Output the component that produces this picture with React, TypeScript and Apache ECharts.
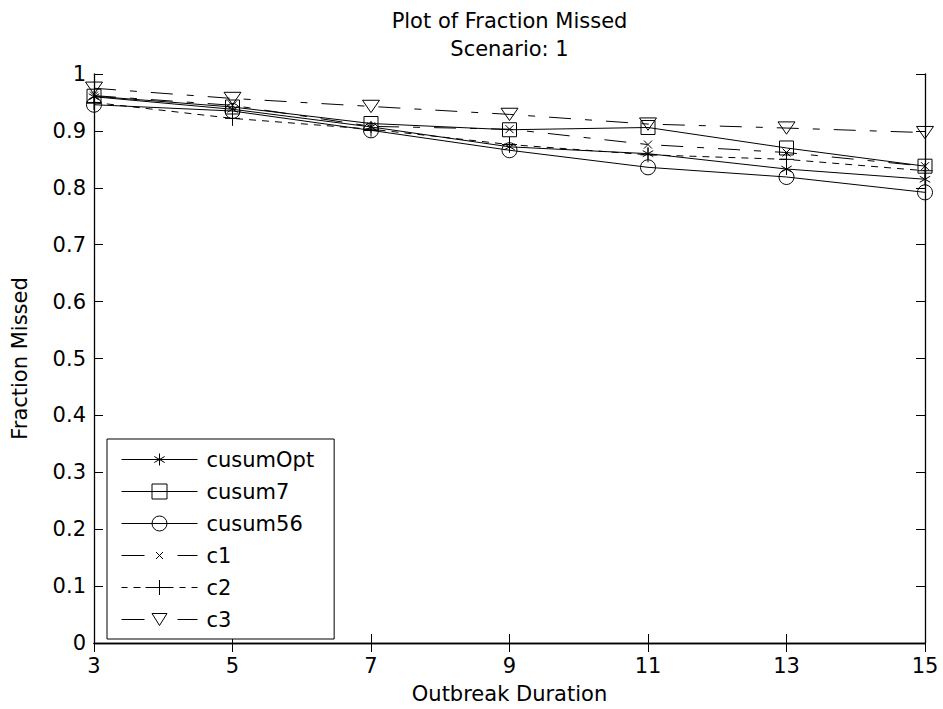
import React, { useEffect, useRef } from "react";
import * as echarts from "echarts";

const durations = [3, 5, 7, 9, 11, 13, 15];
const cusumOpt = [0.960, 0.938, 0.907, 0.872, 0.860, 0.833, 0.815];
const cusum7 = [0.961, 0.942, 0.913, 0.902, 0.906, 0.870, 0.838];
const cusum56 = [0.946, 0.935, 0.901, 0.866, 0.836, 0.819, 0.792];
const c1 = [0.962, 0.945, 0.908, 0.903, 0.876, 0.862, 0.838];
const c2 = [0.950, 0.922, 0.903, 0.876, 0.858, 0.850, 0.830];
const c3 = [0.975, 0.957, 0.943, 0.929, 0.912, 0.905, 0.897];

const seriesNames = ["cusumOpt", "cusum7", "cusum56", "c1", "c2", "c3"];
const titleText = "Plot of Fraction Missed";
const subtitleText = "Scenario: 1";
const xName = "Outbreak Duration";
const yName = "Fraction Missed";

const FONT = "'DejaVu Sans', 'Liberation Sans', Arial, sans-serif";
const FS = 21;

// plot marker shapes
const SYM_ASTERISK = "path://M0,-1L0,1M-0.87,-0.5L0.87,0.5M-0.87,0.5L0.87,-0.5";
const SYM_X = "path://M-1,-1L1,1M-1,1L1,-1";
const SYM_PLUS = "path://M0,-1L0,1M-1,0L1,0";
const SYM_TRI_DOWN = "path://M0,0L2,0L1,1.45Z";

// legend icons (76 x 20 box, anchored by the two leading moveTo points)
const BOX = "M0,0M76,20";
const ICON_ASTERISK = "path://" + BOX + "M0,10L76,10M38,4L38,16M32.8,7L43.2,13M32.8,13L43.2,7";
const ICON_SQUARE = "path://" + BOX + "M0,10L76,10M30.5,2.5L45.5,2.5L45.5,17.5L30.5,17.5Z";
const ICON_CIRCLE = "path://" + BOX + "M0,10L76,10M45.5,10A7.5,7.5 0 1 1 30.5,10A7.5,7.5 0 1 1 45.5,10Z";
const ICON_X = "path://" + BOX + "M0,10L23,10M56,10L76,10M34.5,6.5L41.5,13.5M34.5,13.5L41.5,6.5";
const ICON_PLUS = "path://" + BOX + "M0,10L6,10M12,10L19,10M24,10L52,10M58,10L64,10M70,10L76,10M38,2.5L38,17.5";
const ICON_TRI = "path://" + BOX + "M0,10L23,10M56,10L76,10M30.5,4L45.5,4L38,16Z";

const DASH_DOT = [22, 14, 7, 14];
const DASHED = [7, 6];

function makeSeries(name: string, values: number[], symbol: string, size: number, lineType: any) {
  return {
    name,
    type: "line",
    data: durations.map((d, i) => [d, values[i]]),
    symbol,
    symbolSize: size,
    symbolKeepAspect: true,
    showAllSymbol: true,
    lineStyle: { color: "#000", width: 1, type: lineType },
    itemStyle: { color: "rgba(0,0,0,0)", borderColor: "#000", borderWidth: 1 },
    emphasis: { disabled: true },
    z: 3,
  };
}

export default function App() {
  const ref = useRef<HTMLDivElement>(null);
  useEffect(() => {
    if (!ref.current) return;
    const chart = echarts.init(ref.current, null, { renderer: "svg" });
    const axisLine = { show: true, lineStyle: { color: "#000", width: 1.3 } };
    const tick = { show: true, inside: true, length: 9, lineStyle: { color: "#000", width: 1 } };
    const icons = [ICON_ASTERISK, ICON_SQUARE, ICON_CIRCLE, ICON_X, ICON_PLUS, ICON_TRI];
    chart.setOption({
      animation: false,
      backgroundColor: "#fff",
      textStyle: { fontFamily: FONT },
      title: {
        text: titleText + "\n" + subtitleText,
        left: 509.5,
        textAlign: "center",
        top: 7,
        padding: 0,
        textStyle: { fontFamily: FONT, fontSize: FS, fontWeight: "normal", color: "#000", lineHeight: 28 },
      },
      grid: { left: 94, right: 18, top: 74, bottom: 60, containLabel: false },
      legend: {
        orient: "vertical",
        left: 107,
        top: 439,
        backgroundColor: "#fff",
        borderColor: "#000",
        borderWidth: 1,
        padding: [10, 20, 9, 14],
        itemGap: 11,
        itemWidth: 76,
        itemHeight: 20,
        itemStyle: { color: "rgba(0,0,0,0)", borderColor: "#000", borderWidth: 1 },
        textStyle: { fontFamily: FONT, fontSize: FS, color: "#000", padding: [0, 0, 0, 4] },
        data: seriesNames.map((n, i) => ({ name: n, icon: icons[i] })),
      },
      xAxis: [
        {
          type: "value",
          min: 3,
          max: 15,
          interval: 2,
          position: "bottom",
          name: xName,
          nameLocation: "middle",
          nameGap: 40,
          nameTextStyle: { fontFamily: FONT, fontSize: FS, color: "#000" },
          axisLine,
          axisTick: tick,
          splitLine: { show: false },
          axisLabel: { fontFamily: FONT, fontSize: FS, color: "#000", margin: 12 },
        },
        {
          type: "value",
          min: 3,
          max: 15,
          interval: 2,
          position: "top",
          axisLine,
          axisTick: tick,
          splitLine: { show: false },
          axisLabel: { show: false },
        },
      ],
      yAxis: [
        {
          type: "value",
          min: 0,
          max: 1,
          interval: 0.1,
          position: "left",
          name: yName,
          nameLocation: "middle",
          nameGap: 64,
          nameTextStyle: { fontFamily: FONT, fontSize: FS, color: "#000" },
          axisLine,
          axisTick: tick,
          splitLine: { show: false },
          axisLabel: {
            fontFamily: FONT,
            fontSize: FS,
            color: "#000",
            margin: 8,
            formatter: (v: number) => String(Math.round(v * 10) / 10),
          },
        },
        {
          type: "value",
          min: 0,
          max: 1,
          interval: 0.1,
          position: "right",
          axisLine,
          axisTick: tick,
          splitLine: { show: false },
          axisLabel: { show: false },
        },
      ],
      series: [
        makeSeries(seriesNames[0], cusumOpt, SYM_ASTERISK, 12, "solid"),
        makeSeries(seriesNames[1], cusum7, "rect", 14, "solid"),
        makeSeries(seriesNames[2], cusum56, "circle", 15, "solid"),
        makeSeries(seriesNames[3], c1, SYM_X, 8, DASH_DOT),
        makeSeries(seriesNames[4], c2, SYM_PLUS, 15, DASHED),
        makeSeries(seriesNames[5], c3, SYM_TRI_DOWN, 17, DASH_DOT),
      ],
    });
    return () => chart.dispose();
  }, []);
  return (
    <div
      ref={ref}
      style={{ position: "fixed", left: 0, top: 0, width: 943, height: 709, background: "#fff" }}
    />
  );
}
